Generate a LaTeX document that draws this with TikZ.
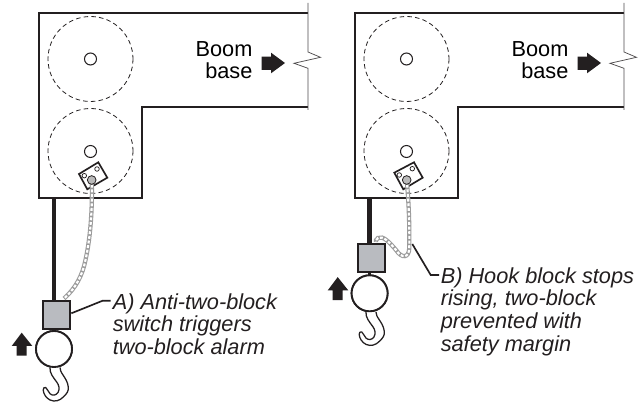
\documentclass[tikz,border=0pt]{standalone}
\usepackage{fontspec}
\setmainfont{Liberation Sans}
\definecolor{boxgray}{HTML}{B9BBC0}
\definecolor{linkgray}{HTML}{9C9C9C}
\definecolor{inkblack}{HTML}{231F20}
\tikzset{
  frame/.style={draw=inkblack,line width=1.15pt,line join=miter},
  breakline/.style={draw=inkblack!80,line width=.55pt},
  sheave/.style={draw=inkblack,line width=.6pt,dash pattern=on 3.4pt off 2.4pt},
  pin/.style={circle,draw=inkblack,line width=.8pt,fill=white,minimum size=9pt,inner sep=0pt},
  plate/.style={draw=inkblack,line width=1.25pt,fill=white,line join=miter},
  hole/.style={circle,draw=inkblack,line width=.55pt,fill=white,minimum size=3.4pt,inner sep=0pt},
  pivot/.style={circle,draw=inkblack,line width=.6pt,fill=linkgray!70,minimum size=6.5pt,inner sep=0pt},
  rod/.style={draw=inkblack,line width=3.5pt},
  blockbox/.style={draw=inkblack,line width=1.5pt,fill=boxgray,minimum width=20.5pt,minimum height=21.5pt,inner sep=0pt},
  ring/.style={circle,draw=inkblack,line width=1.4pt,fill=white,minimum size=27pt,inner sep=0pt},
  hookline/.style={draw=inkblack,line width=.95pt,fill=white,line join=round},
  leader/.style={draw=inkblack,line width=1.25pt},
  bigarrow/.style={fill=inkblack,draw=none},
  boomlabel/.style={font=\fontsize{16.3}{16.5}\selectfont,align=right,anchor=north east,inner sep=0pt},
  notelabel/.style={font=\fontsize{16.3}{17}\selectfont\itshape,align=left,anchor=north west,inner sep=0pt,text=inkblack},
  chainouter/.style={draw=linkgray,line width=3.2pt},
  chaininner/.style={draw=white,line width=1.6pt,dash pattern=on 2.2pt off 1.3pt}
}
\newcommand{\chainpathL}{(91.7,180) .. controls (92.5,205) and (91,235) .. (85.5,260) .. controls (82.5,275) and (76,288) .. (64,298.5)}
\newcommand{\chainpathR}{(406.7,180) .. controls (409,205) and (409.5,225) .. (409.3,248) .. controls (409,258) and (402,259) .. (396,250) .. controls (390,243) and (383,235) .. (378,238) .. controls (376,239) and (375.5,241) .. (376,242)}
\begin{document}
\begin{tikzpicture}[x=.75pt,y=-.75pt]
\useasboundingbox (0,0) rectangle (640,402);
\fill[white] (0,0) rectangle (640,402);
\foreach \dx/\lab in {0/L,316/R}{
\begin{scope}[xshift=\dx*.75pt]
  \draw[frame] (308,13) -- (39,13) -- (39,198) -- (142,198) -- (142,107) -- (308,107);
  \draw[breakline] (308,3) -- (308,52) -- (320.5,57.3) -- (294,63.3) -- (308,68.3) -- (308,110);
  \draw[sheave] (90.5,59) circle [radius=42.5];
  \draw[sheave] (90.5,151) circle [radius=42.5];
  \node[pin] (pinA\lab) at (90.5,59) {};
  \node[pin] (pinB\lab) at (90.5,151.5) {};
  \fill[bigarrow] (261.7,56.7) -- (271,56.7) -- (271,52.7) -- (285,63) -- (271,73.3) -- (271,70) -- (261.7,70) -- cycle;
  \node[boomlabel] (boom\lab) at (252.7,41.5) {Boom\\base};
\end{scope}
}
% plates
\draw[plate] (79,174) -- (98.3,162.3) -- (107.3,177.7) -- (87.3,189.3) -- cycle;
\node[hole] (h1L) at (84.3,175.7) {};
\node[hole] (h2L) at (97,169) {};
\draw[plate] (394.3,172.7) -- (414,162.3) -- (422.7,177.7) -- (403.3,189.3) -- cycle;
\node[hole] (h1R) at (399.3,175) {};
\node[hole] (h2R) at (412.3,168.7) {};
% left block
\node[blockbox] (boxL) at (56.7,315) {};
\node[ring] (ringL) at (54,349) {};
\coordinate (rodtopL) at (54,198);
\draw[rod] (rodtopL) -- (54,300);
\draw[inkblack,line width=2pt] (54,330) -- (54,332);
% right block
\node[blockbox] (boxR) at (371.5,258) {};
\node[ring] (ringR) at (369.6,293.3) {};
\coordinate (rodtopR) at (369.3,198);
\draw[rod] (rodtopR) -- (369.3,243);
\draw[inkblack,line width=2pt] (369.5,272.7) -- (369.5,276);
% chains
\draw[chainouter] \chainpathL;
\draw[chaininner] \chainpathL;
\draw[chainouter] \chainpathR;
\draw[chaininner] \chainpathR;
\node[pivot] (pivL) at (91.7,180) {};
\node[pivot] (pivR) at (406.7,180) {};
% hooks
\foreach \dx/\dy in {0/0,316/-55.6}{
\begin{scope}[shift={(\dx*.75pt,-\dy*.75pt)}]
  \draw[hookline] (50,367.5) .. controls (49.5,373) and (53,377) .. (56.7,382) .. controls (59,385) and (60,389) .. (58,392.5) .. controls (56,395.5) and (52.5,396) .. (50,393.7) .. controls (48,392) and (47.5,388.5) .. (45.7,387.5) .. controls (44.5,387) and (43,388) .. (43.2,390) .. controls (43.5,394) and (46,398) .. (50,400) .. controls (55,402.3) and (60,400.5) .. (63.3,397) .. controls (67,393.5) and (68.8,391) .. (68.3,387) .. controls (67.8,382) and (65,378) .. (63,375) .. controls (61,372) and (60,370) .. (60,367.5);
  \fill[bigarrow] (21.7,332.7) -- (32.3,346) -- (26.7,346) -- (26.7,355.7) -- (16.7,355.7) -- (16.7,346) -- (11.7,346) -- cycle;
\end{scope}
}
\node[ring] at (ringL) {};
\node[ring] at (ringR) {};
% labels
\node[notelabel] (noteA) at (112.5,293) {A) Anti-two-block\\switch triggers\\two-block alarm};
\node[notelabel] (noteB) at (440.5,267) {B) Hook block stops\\rising, two-block\\prevented with\\safety margin};
\coordinate (leadAend) at (110.7,300.7);
\coordinate (leadBend) at (439,275);
\coordinate (leadBstart) at (412.3,244);
\draw[leader] (boxL.east |- 0,313.3) -- (102.7,300.7) -- (leadAend);
\draw[leader] (leadBstart) -- (430.7,275) -- (leadBend);
\end{tikzpicture}
\end{document}
